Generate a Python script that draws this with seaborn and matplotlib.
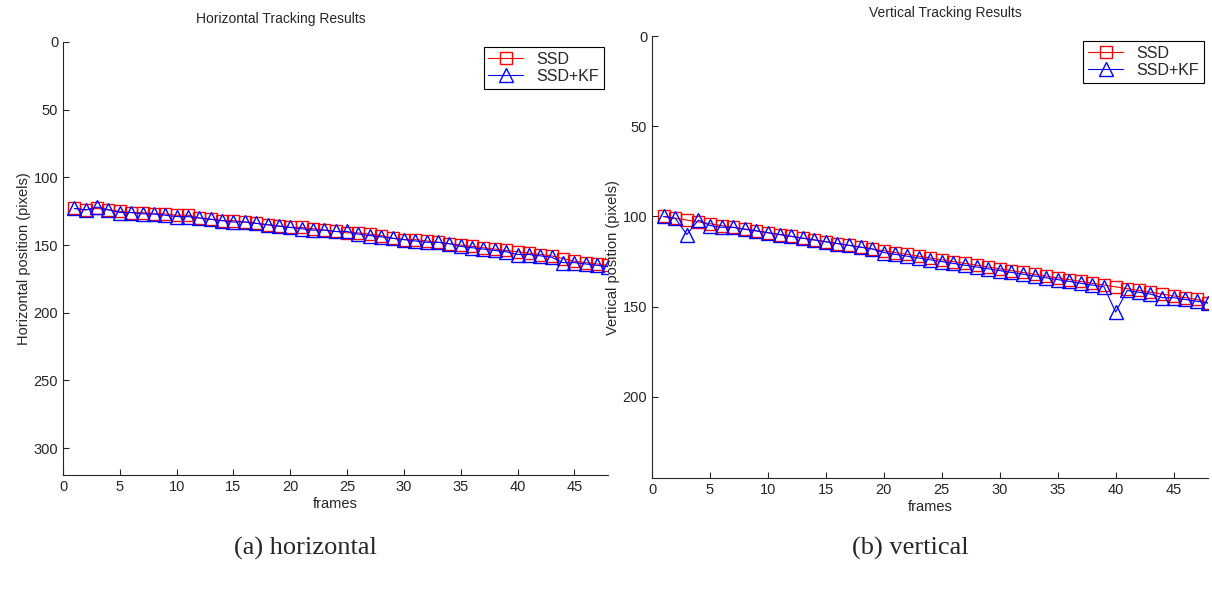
import numpy as np
import pandas as pd
import matplotlib
matplotlib.use('Agg')
import matplotlib.pyplot as plt
import seaborn as sns

# frame numbers and tracked positions
frames = list(range(1, 49))

horiz_ssd = [123, 124, 123, 124, 125, 126, 126, 127, 127, 128, 128, 130,
             131, 132, 132, 133, 134, 135, 136, 137, 137, 138, 139, 140,
             141, 141, 142, 143, 145, 146, 146, 147, 148, 149, 150, 151,
             152, 153, 154, 155, 156, 157, 158, 160, 162, 163, 164, 165]
horiz_kf = [123, 124, 122, 124, 126, 126, 127, 127, 128, 129, 129, 130,
            131, 132, 133, 133, 134, 135, 136, 137, 138, 139, 139, 140,
            140, 142, 143, 144, 145, 146, 147, 148, 148, 149, 151, 152,
            153, 154, 155, 157, 157, 158, 159, 163, 163, 164, 165, 166]

vert_ssd = [100, 101, 102, 103, 104, 105, 106, 107, 108, 109, 110, 111,
            112, 113, 114, 115, 116, 117, 118, 119, 120, 121, 122, 123,
            124, 125, 126, 127, 128, 129, 130, 131, 132, 133, 134, 135,
            136, 137, 138, 139, 140, 141, 142, 143, 144, 145, 146, 148]
vert_kf = [100, 101, 110, 102, 105, 106, 106, 107, 108, 109, 110, 111,
           112, 113, 114, 115, 116, 117, 118, 120, 121, 122, 123, 124,
           125, 126, 127, 128, 129, 130, 131, 132, 133, 134, 135, 136,
           137, 138, 139, 153, 141, 142, 143, 145, 145, 146, 147, 148]

sns.set_style('ticks')
plt.rcParams['font.family'] = ['Liberation Sans', 'DejaVu Sans']

fig = plt.figure(figsize=(12.12, 5.91), dpi=100)
ax1 = fig.add_axes([0.052, 0.196, 0.450, 0.733])
ax2 = fig.add_axes([0.538, 0.191, 0.459, 0.748])


def draw(ax, ssd, kf, ylim, yticks, ylabel, title, tx):
    sns.lineplot(x=frames, y=ssd, ax=ax, color='red', marker='s', markersize=8.5,
                 markerfacecolor='none', markeredgecolor='red', markeredgewidth=1,
                 linewidth=0.8, label='SSD')
    sns.lineplot(x=frames, y=kf, ax=ax, color='blue', marker='^', markersize=9.5,
                 markerfacecolor='none', markeredgecolor='blue', markeredgewidth=1,
                 linewidth=0.8, label='SSD+KF')
    ax.set_xlim(0, 48)
    ax.set_ylim(ylim, 0)
    ax.set_xticks(range(0, 46, 5))
    ax.set_yticks(yticks)
    ax.tick_params(direction='in', labelsize=10.5, length=4)
    ax.set_xlabel('frames', fontsize=10.5, labelpad=2)
    ax.set_ylabel(ylabel, fontsize=10.5, labelpad=2)
    ax.set_title(title, fontsize=10, x=tx, pad=14)
    sns.despine(ax=ax)
    leg = ax.legend(loc='upper right', fontsize=11.5, fancybox=False, framealpha=1,
                    edgecolor='black', borderaxespad=0.3, handlelength=2.2,
                    labelspacing=0.15, borderpad=0.3)
    leg.get_frame().set_linewidth(0.8)


draw(ax1, horiz_ssd, horiz_kf, 320, [0, 50, 100, 150, 200, 250, 300],
     'Horizontal position (pixels)', 'Horizontal Tracking Results', 0.40)
draw(ax2, vert_ssd, vert_kf, 245, [0, 50, 100, 150, 200],
     'Vertical position (pixels)', 'Vertical Tracking Results', 0.527)

fig.text(305 / 1212, 1 - 548 / 591, '(a) horizontal', fontsize=19,
         family=['Liberation Serif'], ha='center', va='center')
fig.text(910 / 1212, 1 - 548 / 591, '(b) vertical', fontsize=19,
         family=['Liberation Serif'], ha='center', va='center')

fig.savefig('out.png', dpi=100)
